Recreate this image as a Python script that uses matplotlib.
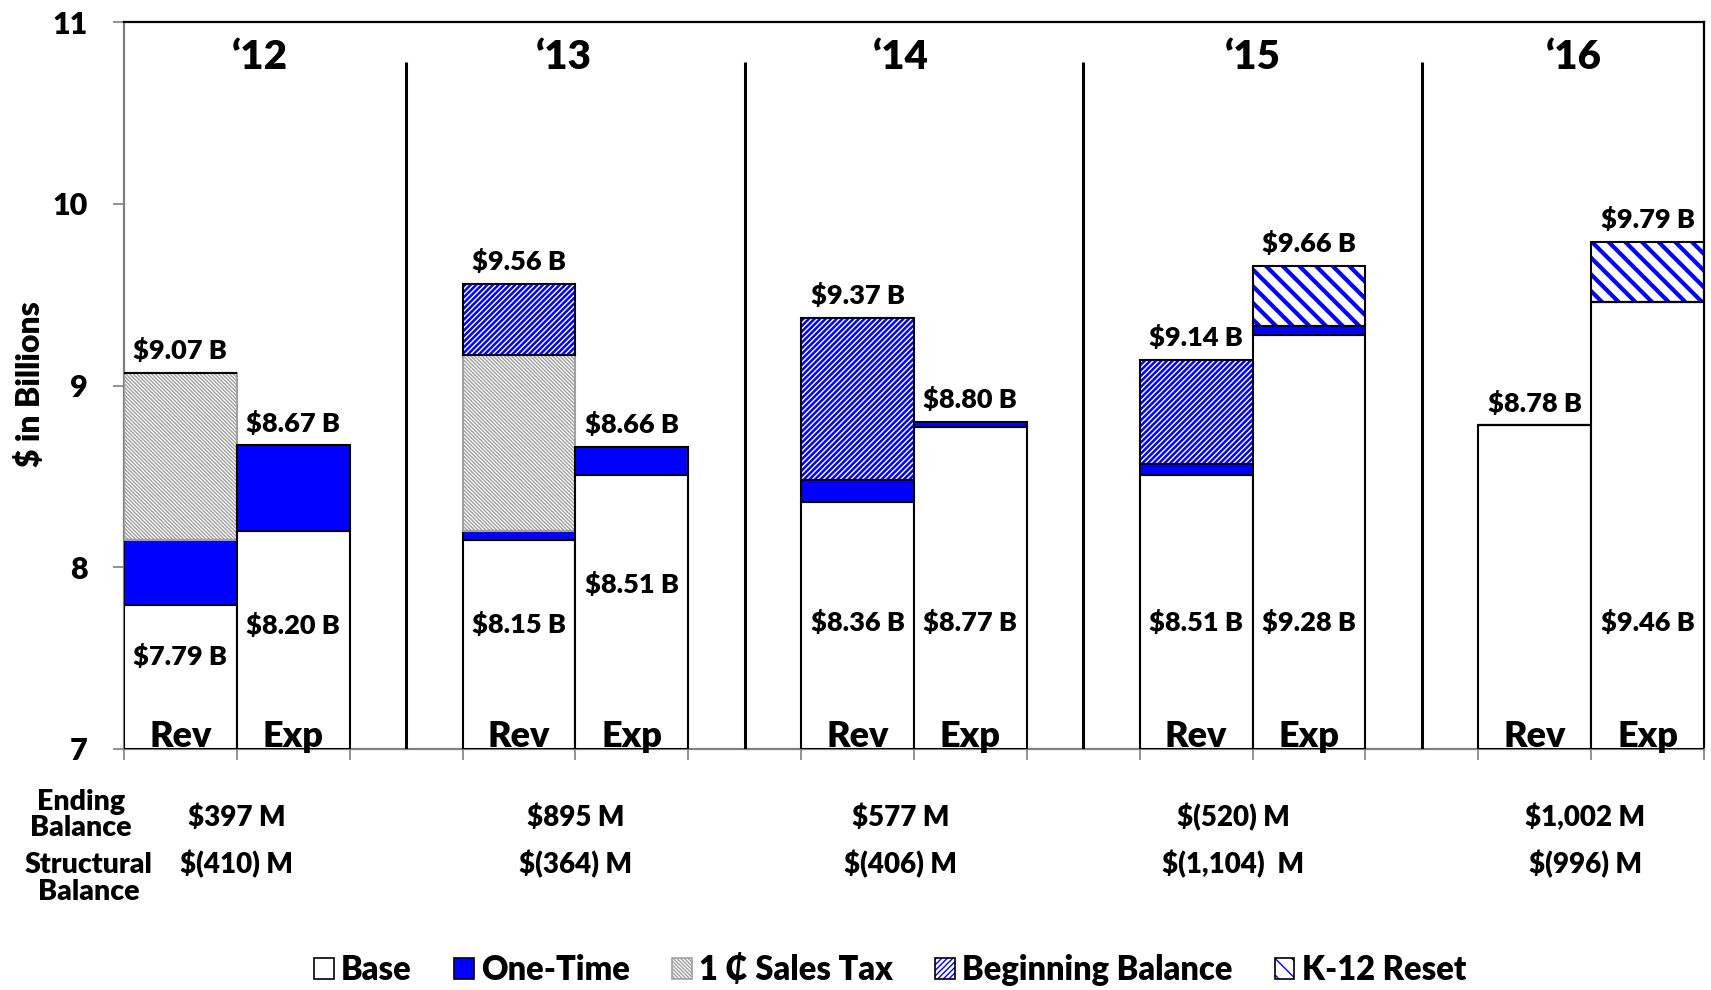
import numpy as np
import matplotlib
matplotlib.use("Agg")
import matplotlib.pyplot as plt
from matplotlib.patches import Patch
from matplotlib.legend_handler import HandlerTuple
from matplotlib.font_manager import FontProperties
import matplotlib.transforms as mtrans

FW = 'heavy'
plt.rcParams['font.family'] = ['Lato', 'DejaVu Sans']
plt.rcParams['font.weight'] = FW
plt.rcParams['text.parse_math'] = False

# ---------------- data ----------------
years = ["‘12", "‘13", "‘14", "‘15", "‘16"]
rev_base = [7.79, 8.15, 8.36, 8.51, 8.78]
rev_onetime = [0.36, 0.05, 0.12, 0.06, 0.00]
rev_salestax = [0.92, 0.97, 0.00, 0.00, 0.00]
rev_beginbal = [0.00, 0.39, 0.89, 0.57, 0.00]
exp_base = [8.20, 8.51, 8.77, 9.28, 9.46]
exp_onetime = [0.47, 0.15, 0.03, 0.05, 0.00]
exp_k12 = [0.00, 0.00, 0.00, 0.33, 0.33]
ending_balance = ["$397 M", "$895 M", "$577 M", "$(520) M", "$1,002 M"]
structural_balance = ["$(410) M", "$(364) M", "$(406) M", "$(1,104)  M", "$(996) M"]
series_names = ["Base", "One-Time", "1 ₵ Sales Tax", "Beginning Balance", "K-12 Reset"]

# ---------------- layout ----------------
rev_base_label_y = [7.46, 7.64, 7.65, 7.65, None]
exp_base_label_y = [7.63, 7.86, 7.65, 7.65, 7.65]
year_label_dx = [0.2, -0.1, -0.12, 0.0, -0.15]
table_dx = [0.0, 0.0, -0.12, -0.17, -0.05]

W, H = 1711, 990
fig = plt.figure(figsize=(W / 100, H / 100), dpi=100)
ax = fig.add_axes([124 / W, 1 - 749 / H, 1580 / W, 727 / H])

n = len(years)
rev_x = np.arange(n) * 3
exp_x = rev_x + 1

BLUE = '#0000ff'
GRAY = '#a0a0a0'
EDGE_LW = 1.5
H_TAX = '\\' * 9
H_BB = '/' * 6
H_K12 = '\\' * 2


def hatched(x, h, bottom, hatch, color, hlw, outline):
    with plt.rc_context({'hatch.linewidth': hlw, 'hatch.color': color}):
        bars = ax.bar(x, h, bottom=bottom, width=1.0, facecolor='white',
                      edgecolor=color, linewidth=0, hatch=hatch, zorder=2)
    for b in bars:
        if hasattr(b, 'set_hatch_linewidth'):
            b.set_hatch_linewidth(hlw)
    ax.bar(x, h, bottom=bottom, width=1.0, fill=False, edgecolor=outline,
           linewidth=EDGE_LW, zorder=3)


rb = np.array(rev_base)
ro = np.array(rev_onetime)
rs = np.array(rev_salestax)
rbb = np.array(rev_beginbal)
eb = np.array(exp_base)
eo = np.array(exp_onetime)
ek = np.array(exp_k12)

# Revenue bars
ax.bar(rev_x, rb - 7, bottom=7, width=1.0, facecolor='white', edgecolor='black',
       linewidth=EDGE_LW, zorder=3)
ax.bar(rev_x, ro, bottom=rb, width=1.0, facecolor=BLUE, edgecolor='black',
       linewidth=EDGE_LW, zorder=3)
m = rs > 0
hatched(rev_x[m], rs[m], (rb + ro)[m], H_TAX, GRAY, 1.0, GRAY)
hatched(rev_x, rbb, rb + ro + rs, H_BB, BLUE, 1.8, 'black')

# Expenditure bars
ax.bar(exp_x, eb - 7, bottom=7, width=1.0, facecolor='white', edgecolor='black',
       linewidth=EDGE_LW, zorder=3)
ax.bar(exp_x, eo, bottom=eb, width=1.0, facecolor=BLUE, edgecolor='black',
       linewidth=EDGE_LW, zorder=3)
m = ek > 0
hatched(exp_x[m], ek[m], (eb + eo)[m], H_K12, BLUE, 3.0, 'black')

rev_total = rb + ro + rs + rbb
exp_total = eb + eo + ek

lbl_fs = 19.5
for i in range(n):
    for x, tot, base, ly in ((rev_x[i], rev_total[i], rb[i], rev_base_label_y[i]),
                             (exp_x[i], exp_total[i], eb[i], exp_base_label_y[i])):
        ax.annotate(f"${tot:.2f} B", (x, tot), xytext=(0, 10), textcoords='offset points',
                    ha='center', va='baseline', fontsize=lbl_fs, fontweight=FW, zorder=5)
        if ly is not None and abs(tot - base) > 1e-9:
            ax.text(x, ly, f"${base:.2f} B", ha='center', va='baseline',
                    fontsize=lbl_fs, fontweight=FW, zorder=5)
    ax.text(rev_x[i], 7.01, "Rev", ha='center', va='baseline', fontsize=26,
            fontweight=FW, zorder=5, clip_on=False)
    ax.text(exp_x[i], 7.01, "Exp", ha='center', va='baseline', fontsize=26,
            fontweight=FW, zorder=5, clip_on=False)
    gc = (rev_x[i] + exp_x[i]) / 2
    ax.text(gc + year_label_dx[i], 10.74, years[i], ha='center', va='baseline',
            fontsize=29, fontweight=FW, zorder=5)

# separators between years
for i in range(n - 1):
    ax.plot([exp_x[i] + 1, exp_x[i] + 1], [7, 10.78], color='black', lw=2.2,
            zorder=4, solid_capstyle='butt')

ax.set_xlim(-0.5, 3 * n - 1.5)
ax.set_ylim(7, 11)
ax.set_yticks([7, 8, 9, 10, 11])
ax.set_xticks(np.arange(-0.5, 3 * n - 1, 1.0))
ax.set_xticklabels([])
ax.tick_params(axis='x', direction='out', length=8, width=1.2, color='#808080')
ax.tick_params(axis='y', direction='out', length=8, width=1.2, color='#808080',
               pad=18, labelsize=22)
for lab in ax.get_yticklabels():
    lab.set_fontweight(FW)
for s in ('left', 'bottom'):
    ax.spines[s].set_color('#808080')
    ax.spines[s].set_linewidth(1.6)
for s in ('top', 'right'):
    ax.spines[s].set_color('black')
    ax.spines[s].set_linewidth(1.6)

ax.set_ylabel("$ in Billions", fontsize=23, fontweight=FW, va='center')
ax.yaxis.set_label_coords(-0.0595, 0.502)

# table below axis
trans = mtrans.blended_transform_factory(ax.transData, ax.transAxes)
for i in range(n):
    gc = (rev_x[i] + exp_x[i]) / 2 + table_dx[i]
    ax.text(gc, -0.106, ending_balance[i], transform=trans, ha='center',
            va='baseline', fontsize=20, fontweight=FW, clip_on=False)
    ax.text(gc, -0.1706, structural_balance[i], transform=trans, ha='center',
            va='baseline', fontsize=20, fontweight=FW, clip_on=False)
row_labels = [("Ending", -0.0272, -0.0839), ("Balance", -0.0272, -0.1197),
              ("Structural", -0.0222, -0.1706), ("Balance", -0.0222, -0.2077)]
for t, x, y in row_labels:
    ax.text(x, y, t, transform=ax.transAxes, ha='center', va='baseline',
            fontsize=20.5, fontweight=FW, clip_on=False)

# legend
with plt.rc_context({'hatch.linewidth': 1.0}):
    h_base = Patch(facecolor='white', edgecolor='black', linewidth=1.2)
    h_one = Patch(facecolor=BLUE, edgecolor='black', linewidth=1.2)
    h_tax = Patch(facecolor='white', edgecolor=GRAY, hatch=H_TAX, linewidth=1.2)
with plt.rc_context({'hatch.linewidth': 1.8}):
    h_bb = (Patch(facecolor='white', edgecolor=BLUE, hatch=H_BB, linewidth=0),
            Patch(fill=False, edgecolor='black', linewidth=1.2))
with plt.rc_context({'hatch.linewidth': 3.0}):
    h_k12 = (Patch(facecolor='white', edgecolor=BLUE, hatch=H_K12, linewidth=0),
             Patch(fill=False, edgecolor='black', linewidth=1.2))
fig.legend([h_base, h_one, h_tax, h_bb, h_k12], series_names,
           loc='center', bbox_to_anchor=(890 / W, 1 - 970 / H), ncol=5,
           frameon=False, prop=FontProperties(family=['Lato', 'DejaVu Sans'],
                                              weight=FW, size=23.5),
           handlelength=0.6, handleheight=0.65, handletextpad=0.22,
           columnspacing=1.3, borderpad=0,
           handler_map={tuple: HandlerTuple(ndivide=1)})

fig.savefig("out.png", dpi=100)
